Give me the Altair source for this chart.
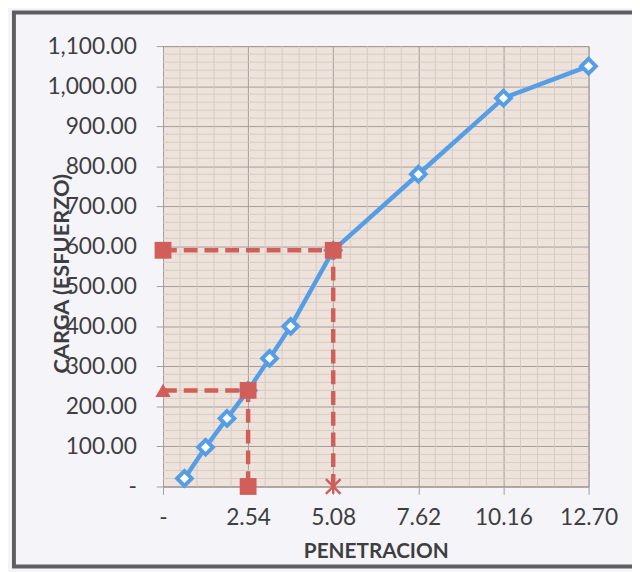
import altair as alt
import pandas as pd

# Data
penetracion = [0.64, 1.27, 1.91, 2.54, 3.18, 3.81, 5.08, 7.62, 10.16, 12.70]
carga = [20, 98, 170, 240, 320, 400, 590, 780, 970, 1050]

# Guide (dashed red) paths
guide_id = ["g1", "g1", "g1", "g2", "g2", "g2"]
guide_step = [0, 1, 2, 0, 1, 2]
guide_x = [0, 2.54, 2.54, 0, 5.08, 5.08]
guide_y = [240, 240, 0, 590, 590, 0]

# Red markers
sq_x = [0, 5.08, 2.54, 2.54]
sq_y = [590, 590, 240, 0]
tri_x = [0]
tri_y = [240]
star_x = [5.08]
star_y = [0]

x_ticks = [0, 2.54, 5.08, 7.62, 10.16, 12.70]
y_ticks = list(range(0, 1101, 100))
x_minor = [round(i * 0.508, 3) for i in range(26) if i % 5 != 0]
y_minor = [v for v in range(0, 1101, 20) if v % 100 != 0]

BLUE = "#559EE6"
RED = "#D25E5A"
TXT = "#3E3E42"
GRID = "#A59C9A"
GRID_MINOR = "#D6CBC4"
FONT = "Lato"

W, H = 431, 446
xs = alt.Scale(domain=[0, 12.70], nice=False, zero=False)
ys = alt.Scale(domain=[0, 1100], nice=False)

fmt = "datum.value == 0 ? '-\u2007' : format(datum.value, ',.2f')"

x_axis = alt.Axis(
    values=x_ticks, labelExpr=fmt, title="PENETRACION",
    labelFont=FONT, labelFontSize=23, labelColor=TXT, labelPadding=13,
    tickSize=8, tickColor=GRID, domainColor=GRID, gridColor=GRID, gridWidth=1,
    titleFont=FONT, titleFontSize=21, titleFontWeight="bold", titleColor=TXT,
    titlePadding=11, labelFlush=False,
)
y_axis = alt.Axis(
    values=y_ticks, labelExpr=fmt, title="CARGA (ESFUERZO)",
    labelFont=FONT, labelFontSize=23, labelColor=TXT, labelPadding=20,
    tickSize=7, tickColor=GRID, domainColor=GRID, gridColor=GRID, gridWidth=1,
    titleFont=FONT, titleFontSize=22, titleFontWeight="bold", titleColor=TXT,
    titleAngle=-90, titleX=-103, titleY=230, titleAlign="center",
    titleBaseline="middle", labelFlush=False,
)


def X(field):
    return alt.X(field, type="quantitative", scale=xs, axis=x_axis)


def Y(field):
    return alt.Y(field, type="quantitative", scale=ys, axis=y_axis)


frame = alt.Chart(pd.DataFrame({"a": [0]})).mark_rect(
    fill="transparent", stroke="#5E5E62", strokeWidth=4
).encode(
    x=alt.value(-151), x2=alt.value(520), y=alt.value(-34), y2=alt.value(527)
)

minor_x = alt.Chart(pd.DataFrame({"x": x_minor})).mark_rule(
    color=GRID_MINOR, strokeWidth=1
).encode(x=X("x"))

minor_y = alt.Chart(pd.DataFrame({"y": y_minor})).mark_rule(
    color=GRID_MINOR, strokeWidth=1
).encode(y=Y("y"))

main_df = pd.DataFrame({"x": penetracion, "y": carga})

blue_line = alt.Chart(main_df).mark_line(color=BLUE, strokeWidth=4.5).encode(
    x=X("x"), y=Y("y")
)

guide_df = pd.DataFrame({"g": guide_id, "s": guide_step, "x": guide_x, "y": guide_y})
guides = alt.Chart(guide_df).mark_line(
    color=RED, strokeWidth=4.5, strokeDash=[14, 7]
).encode(x=X("x"), y=Y("y"), detail="g:N", order="s:Q")

diamonds = alt.Chart(main_df).mark_point(
    shape="diamond", filled=True, fill="white", stroke=BLUE, strokeWidth=4,
    size=220, opacity=1,
).encode(x=X("x"), y=Y("y"))

squares = alt.Chart(pd.DataFrame({"x": sq_x, "y": sq_y})).mark_point(
    shape="square", filled=True, color=RED, size=290, opacity=1
).encode(x=X("x"), y=Y("y"))

triangles = alt.Chart(pd.DataFrame({"x": tri_x, "y": tri_y})).mark_point(
    shape="triangle-up", filled=True, color=RED, size=240, opacity=1
).encode(x=X("x"), y=Y("y"))

stars = alt.Chart(pd.DataFrame({"x": star_x, "y": star_y})).mark_point(
    shape="M-1,-1L1,1M-1,1L1,-1M0,-1L0,1", filled=False, stroke=RED,
    strokeWidth=2.5, size=220, opacity=1,
).encode(x=X("x"), y=Y("y"))

chart = alt.layer(
    frame, minor_x, minor_y, blue_line, guides, diamonds, squares, triangles, stars
).properties(
    width=W, height=H,
    autosize=alt.AutoSizeParams(type="none"),
    padding={"left": 157, "top": 35, "right": 44, "bottom": 83},
    background="#F5F5F9",
).configure_view(
    fill="#EEE3DB", stroke=GRID, strokeWidth=1
)

chart.save("out.html", embed_options={"renderer": "svg", "actions": False})
